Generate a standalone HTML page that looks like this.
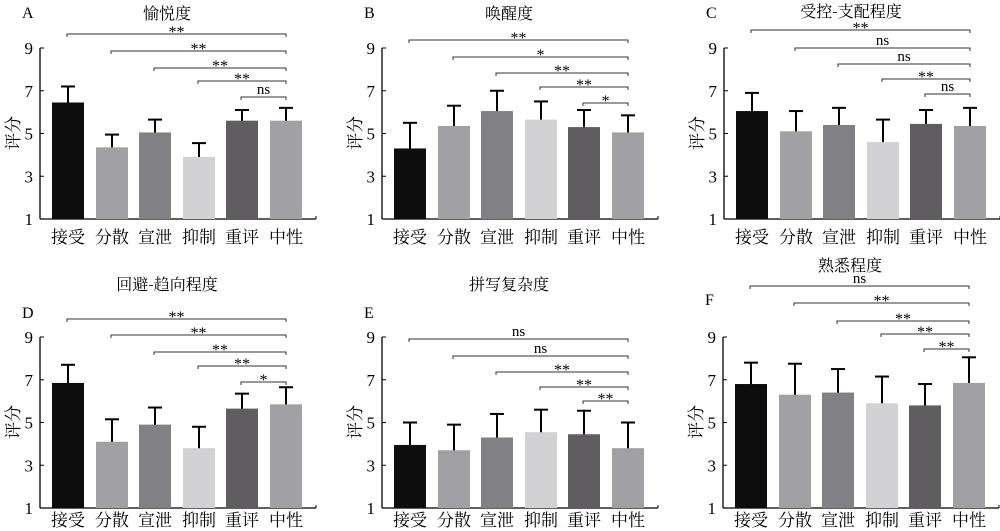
<!DOCTYPE html>
<html><head><meta charset="utf-8"><style>
html,body{margin:0;padding:0;background:#fff;}
svg{display:block;font-family:"Liberation Serif","Noto Serif CJK SC",serif;}
</style></head><body>
<svg id="s" width="1000" height="531" viewBox="0 0 1000 531" xmlns="http://www.w3.org/2000/svg"></svg>
<script>
const cols=["#0d0d0d","#a0a0a5","#808085","#d2d2d4","#5f5d60","#a0a0a5"];
const cats=["接受","分散","宣泄","抑制","重评","中性"];
const P=[
{ox:0,oy:0,L:"A",ly:12,t:"愉悦度",ty:12,lb:243,d:[[6.45,.75],[4.35,.6],[5.05,.6],[3.9,.65],[5.6,.5],[5.6,.6]],b:[[34,"**"],[51,"**"],[68,"**"],[81,"**"],[97,"ns"]]},
{ox:342,oy:0,L:"B",ly:12,t:"唤醒度",ty:12,lb:243,d:[[4.3,1.2],[5.35,.95],[6.05,.95],[5.65,.85],[5.3,.8],[5.05,.8]],b:[[40,"**"],[57,"*"],[73,"**"],[87,"**"],[103,"*"]]},
{ox:684,oy:0,L:"C",ly:12,t:"受控-支配程度",ty:10,lb:243,d:[[6.05,.85],[5.1,.95],[5.4,.8],[4.6,1.05],[5.45,.65],[5.35,.85]],b:[[30,"**"],[48,"ns"],[64,"ns"],[79,"**"],[94,"ns"]]},
{ox:0,oy:289,L:"D",ly:23,t:"回避-趋向程度",ty:-6,lb:237,d:[[6.85,.85],[4.1,1.05],[4.9,.8],[3.8,1.0],[5.65,.7],[5.85,.8]],b:[[30,"**"],[46,"**"],[63,"**"],[77,"**"],[93,"*"]]},
{ox:342,oy:289,L:"E",ly:23,t:"拼写复杂度",ty:-6,lb:237,d:[[3.95,1.05],[3.7,1.2],[4.3,1.1],[4.55,1.05],[4.45,1.1],[3.8,1.2]],b:[[50,"ns"],[67,"ns"],[83,"**"],[98,"**"],[112,"**"]]},
{ox:683,oy:289,L:"F",ly:10,t:"熟悉程度",ty:-25,lb:237,d:[[6.8,1.0],[6.3,1.45],[6.4,1.1],[5.9,1.25],[5.8,1.0],[6.85,1.2]],b:[[-3,"ns"],[14,"**"],[32,"**"],[45,"**"],[60,"**"]]}
];
let h="";
const cx=[68,112,155,199,242,286];
for(const p of P){
 const X=x=>x+p.ox,Y=y=>y+p.oy,V=v=>219-(v-1)*21.375;
 h+=`<text x="${X(22)}" y="${Y(p.ly+6)}" font-size="16">${p.L}</text>`;
 h+=`<text x="${X(167)}" y="${Y(p.ty+7)}" font-size="16" text-anchor="middle" font-family="Noto Serif CJK SC,serif">${p.t}</text>`;
 h+=`<line x1="${X(40)}" y1="${Y(48)}" x2="${X(40)}" y2="${Y(219)}" stroke="#000" stroke-width="1.3"/>`;
 h+=`<line x1="${X(40)}" y1="${Y(219)}" x2="${X(316)}" y2="${Y(219)}" stroke="#000" stroke-width="1.3"/>`;
 h+=`<line x1="${X(316)}" y1="${Y(219)}" x2="${X(316)}" y2="${Y(216)}" stroke="#000"/>`;
 for(const v of [1,3,5,7,9]){const y=V(v);
  h+=`<line x1="${X(40)}" y1="${Y(y)}" x2="${X(44)}" y2="${Y(y)}" stroke="#000"/>`;
  h+=`<text x="${X(33)}" y="${Y(y+6)}" font-size="17" text-anchor="end">${v}</text>`;}
 h+=`<text transform="translate(${X(19)},${Y(133)}) rotate(-90)" font-size="17" text-anchor="middle" font-family="Noto Serif CJK SC,serif">评分</text>`;
 p.d.forEach((d,i)=>{const c=cx[i],yt=V(d[0]),ye=V(d[0]+d[1]);
  h+=`<line x1="${X(c)}" y1="${Y(ye)}" x2="${X(c)}" y2="${Y(yt+4)}" stroke="#000" stroke-width="2"/>`;
  h+=`<line x1="${X(c-7)}" y1="${Y(ye)}" x2="${X(c+7)}" y2="${Y(ye)}" stroke="#000" stroke-width="2"/>`;
  h+=`<rect x="${X(c-16)}" y="${Y(yt)}" width="32" height="${219-yt}" fill="${cols[i]}"/>`;
  h+=`<text x="${X(c)}" y="${Y(p.lb)}" font-size="17" text-anchor="middle" font-family="Noto Serif CJK SC,serif">${cats[i]}</text>`;});
 p.b.forEach((b,j)=>{const l=cx[j]-1,r=286,y=b[0];
  h+=`<polyline points="${X(l)},${Y(y+3)} ${X(l)},${Y(y)} ${X(r)},${Y(y)} ${X(r)},${Y(y+3)}" fill="none" stroke="#333" stroke-width="1"/>`;
  const tx=(l+r)/2;
  h+= b[1]=="ns"?`<text x="${X(tx)}" y="${Y(y-3)}" font-size="15" text-anchor="middle">ns</text>`
   :`<text x="${X(tx)}" y="${Y(y+3)}" font-size="16" text-anchor="middle">${b[1]}</text>`;});
}
document.getElementById("s").innerHTML=h;
</script>
</body></html>
